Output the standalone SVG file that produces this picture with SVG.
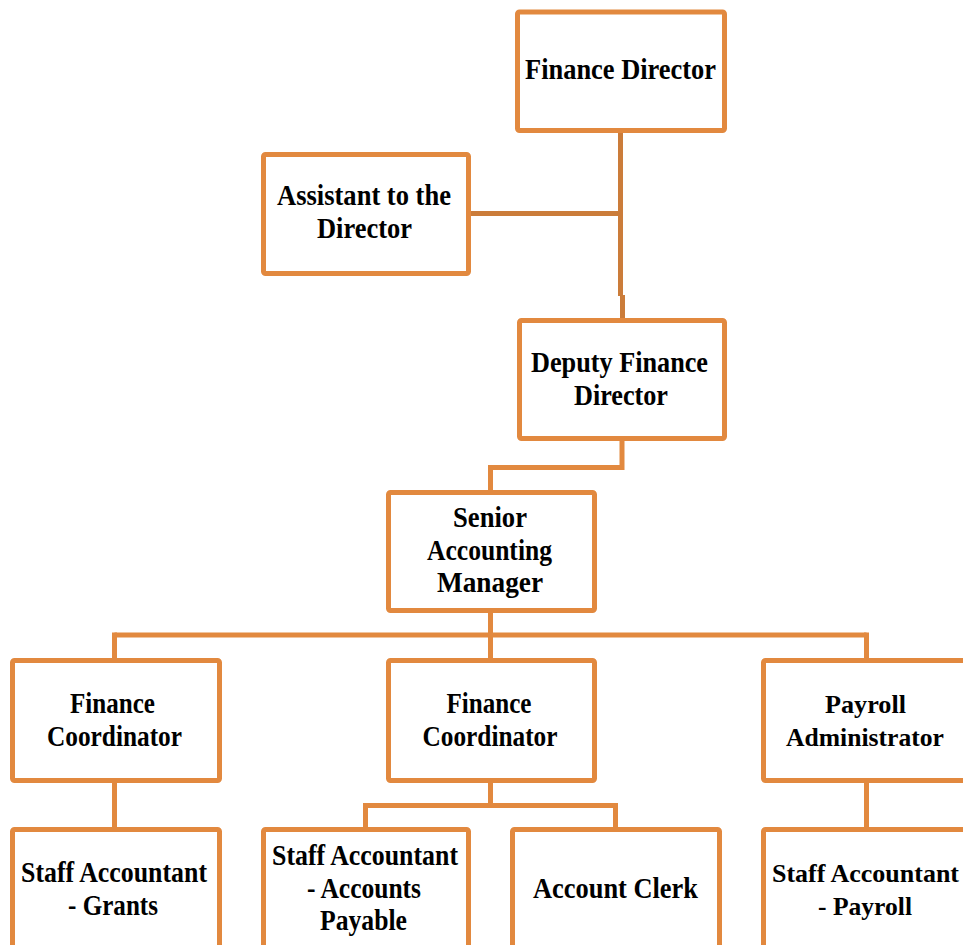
<svg xmlns="http://www.w3.org/2000/svg" width="963" height="945" viewBox="0 0 963 945">
<style>
.box{fill:#fff;stroke:#E2893F;stroke-width:5}
.t{font-family:"Liberation Serif","Times New Roman",serif;font-weight:bold;font-size:30px;fill:#000;text-anchor:middle}
.r{font-size:26px}
.c{fill:none;stroke:#E2893F;stroke-width:5}
.cd{fill:none;stroke:#CB7C3A;stroke-width:5}
</style>
<rect width="963" height="945" fill="#fff"/>
<g id="connectors">
<path class="cd" d="M620.5 130 V296"/>
<path class="cd" d="M622.5 295 V321"/>
<path class="cd" d="M468 213.5 H621"/>
<path class="c" d="M622 438 V467.5 H490.5 V493"/>
<path class="c" d="M490.5 610 V661"/>
<path class="c" d="M114.5 635 H866.5"/>
<path class="c" d="M114.5 632.5 V661"/>
<path class="c" d="M866.5 632.5 V661"/>
<path class="c" d="M114.5 780 V830"/>
<path class="c" d="M490.5 780 V805.5"/>
<path class="c" d="M365.5 830 V805.5 H615.5 V830"/>
<path class="c" d="M866.5 780 V830"/>
</g>
<g id="finance-director">
<rect class="box" x="517.5" y="12" width="207" height="118.5" rx="2"/>
<text class="t" x="620.5" y="79" textLength="191" lengthAdjust="spacingAndGlyphs">Finance  Director</text>
</g>
<g id="assistant">
<rect class="box" x="263.5" y="154.5" width="205" height="119" rx="2"/>
<text class="t" x="364" y="205" textLength="174" lengthAdjust="spacingAndGlyphs">Assistant to the</text>
<text class="t" x="364.5" y="238" textLength="95" lengthAdjust="spacingAndGlyphs">Director</text>
</g>
<g id="deputy">
<rect class="box" x="519.5" y="320.5" width="205" height="118" rx="2"/>
<text class="t" x="619.5" y="372" textLength="177" lengthAdjust="spacingAndGlyphs">Deputy Finance</text>
<text class="t" x="621" y="405" textLength="94" lengthAdjust="spacingAndGlyphs">Director</text>
</g>
<g id="senior">
<rect class="box" x="388.5" y="492.5" width="206" height="118" rx="2"/>
<text class="t" x="490" y="527" textLength="74" lengthAdjust="spacingAndGlyphs">Senior</text>
<text class="t" x="489.5" y="560" textLength="125" lengthAdjust="spacingAndGlyphs">Accounting</text>
<text class="t" x="490" y="592" textLength="106" lengthAdjust="spacingAndGlyphs">Manager</text>
</g>
<g id="coordinator-left">
<rect class="box" x="12.5" y="660.5" width="207" height="120" rx="2"/>
<text class="t" x="112.5" y="713" textLength="85" lengthAdjust="spacingAndGlyphs">Finance</text>
<text class="t" x="114.5" y="746" textLength="135" lengthAdjust="spacingAndGlyphs">Coordinator</text>
</g>
<g id="coordinator-middle">
<rect class="box" x="388.5" y="660.5" width="206" height="120" rx="2"/>
<text class="t" x="489" y="713" textLength="85" lengthAdjust="spacingAndGlyphs">Finance</text>
<text class="t" x="490" y="746" textLength="135" lengthAdjust="spacingAndGlyphs">Coordinator</text>
</g>
<g id="payroll-admin">
<rect class="box" x="763.5" y="660.5" width="207" height="120" rx="2"/>
<text class="t r" x="865.5" y="713" textLength="81" lengthAdjust="spacingAndGlyphs">Payroll</text>
<text class="t r" x="865" y="746" textLength="158" lengthAdjust="spacingAndGlyphs">Administrator</text>
</g>
<g id="staff-grants">
<rect class="box" x="12.5" y="829.5" width="207" height="120" rx="2"/>
<text class="t" x="114" y="882" textLength="186" lengthAdjust="spacingAndGlyphs">Staff Accountant</text>
<text class="t" x="113" y="915" textLength="90" lengthAdjust="spacingAndGlyphs">- Grants</text>
</g>
<g id="staff-ap">
<rect class="box" x="263.5" y="829.5" width="205" height="120" rx="2"/>
<text class="t" x="365" y="865" textLength="186" lengthAdjust="spacingAndGlyphs">Staff Accountant</text>
<text class="t" x="364" y="898" textLength="114" lengthAdjust="spacingAndGlyphs">- Accounts</text>
<text class="t" x="363.5" y="930" textLength="87" lengthAdjust="spacingAndGlyphs">Payable</text>
</g>
<g id="account-clerk">
<rect class="box" x="512.5" y="829.5" width="207" height="120" rx="2"/>
<text class="t" x="615.5" y="898" textLength="165" lengthAdjust="spacingAndGlyphs">Account  Clerk</text>
</g>
<g id="staff-payroll">
<rect class="box" x="763.5" y="829.5" width="207" height="120" rx="2"/>
<text class="t r" x="865.5" y="882" textLength="187" lengthAdjust="spacingAndGlyphs">Staff Accountant</text>
<text class="t r" x="865" y="915" textLength="94" lengthAdjust="spacingAndGlyphs">- Payroll</text>
</g>
</svg>
